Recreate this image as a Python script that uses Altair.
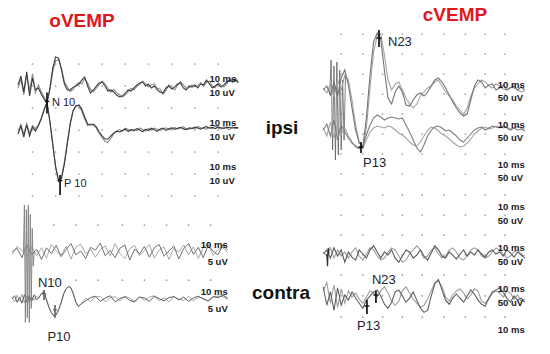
import altair as alt
import pandas as pd

FONT = "Liberation Sans"

# ---------------- time bases (ms) ----------------
T_A = list(range(0, 77))
T_B1 = list(range(-3, 87, 2))
T_B2 = list(range(-3, 26)) + list(range(27, 87, 2))
T_CD = list(range(-8, 105, 2))

# ---------------- oVEMP ipsi (uV, relative to row baseline) ----------------
A1A = [0.5, 4.5, -2.7, 6.4, -4.5, 3.6, -1.8, -0.9, -3.6, -5.9,
       -7.7, -0.9, 8.2, 13.2, 12.7, 7.3, 0.9, -1.8, -1.8, -0.5,
       0.0, 0.9, 2.7, 4.1, 0.0, -3.2, -1.8, 0.0, 1.4, 1.8,
       0.0, -2.3, -1.8, -2.7, -4.1, -5.0, -4.5, -3.2, -1.8, -2.3,
       -0.9, 0.5, 1.4, 1.8, 0.0, 0.9, -0.9, 0.0, -1.8, -2.7,
       -3.2, -0.9, 0.0, -1.4, -0.5, 0.9, 1.4, -0.9, -1.8, 0.0,
       -0.5, 0.5, -0.9, 0.9, 0.5, 2.7, 0.9, -0.9, 0.0, 0.9,
       -0.5, 0.5, 1.8, 2.7, 1.8, 2.7, 1.4]
A1B = [-1.0, 3.0, -4.0, 5.0, -2.0, 5.5, -3.0, 0.5, -2.5, -5.0,
       -7.5, -2.0, 6.5, 11.5, 12.0, 8.0, 2.0, -0.5, -2.5, -1.5,
       0.5, 1.5, 1.0, 3.2, 1.5, -1.5, -2.5, -1.0, 0.5, 2.2,
       1.0, -1.0, -2.8, -1.5, -3.0, -4.0, -5.0, -4.0, -2.5, -1.0,
       -1.8, -0.2, 0.8, 2.3, 1.0, -0.5, 0.5, 1.0, -1.0, -1.5,
       -3.8, -2.0, 0.5, -0.5, -1.8, 0.2, 2.0, 0.5, -1.0, -0.8,
       0.6, -0.4, 0.2, 1.5, -0.2, 1.8, 2.2, 0.0, -0.8, 1.5,
       0.5, -0.5, 1.0, 3.2, 2.5, 3.5, 2.0]
A2A = [-1.8, 1.8, -3.2, 2.3, -2.7, 1.4, -0.5, 1.8, 5.0, 9.1,
       12.7, 4.1, -6.4, -16.8, -23.0, -22.0, -15.5, -6.4, 2.7, 8.6,
       10.9, 11.4, 9.5, 5.9, 2.7, 2.3, 2.7, 1.4, -0.9, -2.7,
       -4.1, -4.1, -2.7, -1.4, -0.5, -0.9, -0.2, 0.5, -0.7, 0.3,
       -0.4, 0.6, 0.0, -0.8, 0.4, -0.3, 0.8, 0.1, -0.6, 0.5,
       0.9, -0.2, 0.6, 1.0, 0.3, 0.8, 1.2, 0.5, 0.2, 1.0,
       0.6, 1.3, 0.9, 0.4, 1.1, 1.5, 0.8, 1.2, 0.6, 1.4,
       1.0, 0.7, 1.3, 1.1, 0.9, 1.2, 1.0]
A2B = [-0.5, 2.5, -1.8, 3.0, -1.5, 2.0, 0.5, 2.2, 5.5, 9.5,
       12.5, 3.5, -7.0, -17.5, -23.5, -21.5, -14.5, -5.5, 3.2, 9.0,
       11.2, 11.0, 8.5, 5.0, 2.0, 2.8, 2.2, 0.8, -1.5, -3.5,
       -5.2, -5.6, -3.8, -1.8, -0.5, 0.2, -0.6, 0.8, 0.2, -0.5,
       0.4, -0.3, 0.9, 0.2, -0.5, 0.7, 0.0, 0.9, 0.3, -0.2,
       0.5, 1.0, 0.2, 0.6, 1.2, 0.4, 0.9, 1.5, 0.6, 0.3,
       1.1, 0.5, 1.6, 1.0, 0.7, 0.4, 1.3, 0.5, 1.8, 0.9,
       0.4, 1.5, 0.8, 0.2, 1.4, 0.6, 0.9]

# ---------------- oVEMP contra ----------------
B1A = [0, 0.8, -1.2, 1.5, -0.5, 0.6, -1.6, 0.9, -0.3, 1.4,
       -1.0, 0.5, 1.8, -0.6, 0.2, -1.4, 1.0, 0.4, 1.9, -0.8,
       0.3, -1.2, 0.8, 1.5, -1.7, 0.6, -0.4, 1.2, -1.1, 0.9,
       1.6, -0.9, 0.2, 1.3, -1.5, 0.7, 1.8, -0.5, 1.0, -1.2,
       1.4, 0.2, -0.6, 1.5, 0.4]
B1B = [-0.5, 1.2, 0.3, -1.0, 1.1, -0.8, 0.9, -1.3, 1.6, 0.2,
       -0.7, 1.2, -1.5, 1.0, 1.7, -0.4, 0.6, -1.1, 0.5, 1.3,
       -0.9, 1.8, -0.3, -1.4, 0.7, 1.4, -0.8, 0.3, 1.6, -1.3,
       0.4, 1.1, -1.6, 0.8, 0.0, 1.5, -0.6, 1.1, -1.4, 0.9,
       1.7, -0.7, 0.5, 1.0, -0.2]
B2A = [0, 0.7, -0.7, 0.4, -0.9, 0.9, -0.7, 0.7, -0.4, 0.9,
       -0.2, 0.4, 1.1, 1.6, -0.2, -1.8, -2.9, -3.6, -3.3, -2.2,
       -0.7, 1.1, 2.2, 2.7, 2.4, 1.1, -0.7, -1.6, -1.1,
       -0.4, 0.3, 0.6, -0.5, 0.2, 0.7, -0.6, 0.1, 0.5, -0.3,
       -0.6, 0.4, 0.2, -0.5, 0.6, 0.1, -0.4, 0.3, 0.5, -0.2,
       0.4, -0.5, 0.2, 0.6, 0.0, -0.4, 0.5, 0.3, 0.8, 0.2]
B2B = [0.3, -0.6, 0.8, -0.5, 1.0, -0.8, 0.6, -0.9, 0.5, -0.3,
       0.6, 0.2, 1.3, 1.4, 0.0, -1.6, -2.8, -3.5, -3.4, -2.4,
       -0.9, 0.9, 2.1, 2.6, 2.3, 1.0, -0.6, -1.5, -1.2,
       0.2, -0.5, 0.4, 0.6, -0.6, 0.3, 0.5, -0.4, 0.6, 0.2,
       -0.5, 0.5, -0.3, 0.4, 0.7, -0.4, 0.3, -0.6, 0.5, 0.0,
       -0.3, 0.6, -0.4, 0.4, 0.2, -0.5, 0.4, 0.6, 0.5, -0.1]
ART_B_T = [1.6, 2.0, 2.4, 2.8, 3.2, 3.6, 4.0, 4.4, 4.8, 5.2, 5.6, 6.0]
ART_B_V = [0, 10, -15, 9, -14, 10, -15, 8, -12, 5, -3, 0]

# ---------------- cVEMP ipsi ----------------
C1A = [0, 10, -12.5, 20, -15, 30, 50, 12.5, -45, -100,
       -132.5, -142.5, -70, 37.5, 120, 142.5, 125, 50, -20, -35,
       -5, 10, -5, -37.5, -40, -25, -12.5, -7.5, -15, -5,
       10, 25, 30, 20, 5, -12.5, -30, -45, -57.5, -65,
       -60, -25, 10, 25, 20, 5, 12.5, 15, 0, 5,
       12.5, 0, 5, 10, 0, 7.5, 0]
C1B = [5, -7.5, 15, -17.5, 25, 0, 37.5, 25, -25, -87.5,
       -130, -145, -95, 5, 95, 135, 140, 87.5, 25, 0,
       15, 20, 0, -20, -35, -45, -35, -15, -5, 5,
       10, 20, 25, 10, -5, -15, -25, -40, -50, -60,
       -45, -15, 5, 15, 25, 20, 10, 5, 15, 10,
       2.5, 0, 7.5, 5, 0, -5, -2.5]
C2A = [0, 15, -15, 25, -25, 12.5, -5, -20, -32.5, -40,
       -45, -40, -12.5, 12.5, 30, 37.5, 32.5, 25, 30, 32.5,
       30, 27.5, 30, 12.5, -5, -25, -45, -55, -37.5, -15,
       0, 7.5, 10, 5, -2.5, 0, -7.5, -15, -25, -30,
       -20, -10, 0, 5, 7.5, 0, 5, 10, 7.5, 5,
       10, 5, 0, 5, 0, 2.5, -2.5]
C2B = [5, -15, 20, -20, 15, -10, 5, -15, -30, -42.5,
       -47.5, -45, -25, -5, 5, 10, 7.5, 5, 10, 7.5,
       0, -7.5, -12.5, -20, -30, -37.5, -40, -30, -15, 0,
       7.5, 5, -2.5, -10, -15, -22.5, -30, -37.5, -42.5, -40,
       -32.5, -22.5, -10, -2.5, 5, 7.5, 2.5, 5, 10, 7.5,
       5, 7.5, 2.5, 5, 10, 5, 2.5]
ART_C_T = [-4.4, -3.6, -2.8, -2.0, -1.2, -0.4, 0.4, 1.2, 2.0, 2.8, 3.6, 4.4]
ART_C_V = [-12.5, 75, -150, 60, -175, 70, -162.5, 50, -150, 25, -125, 37.5]

# ---------------- cVEMP contra ----------------
D1A = [0, 10, -10, 15, -5, 10, -20, 5, -7.5, -15,
       10, 0, -10, 10, 20, 5, -10, 5, -2.5, 10,
       -10, -20, -5, 10, 5, -10, -2.5, 10, -5, -15,
       2.5, 20, 10, -5, -10, 5, -2.5, -12.5, 0, 10,
       -5, 5, -2.5, 10, 0, -7.5, 5, 10, 0, 5,
       -5, 10, 2.5, -7.5, 5, -2.5, -10]
D1B = [5, -5, 15, -10, 10, -5, 5, -10, 5, 15,
       -5, -15, 0, 15, 10, -5, -15, -10, 5, 15,
       10, -5, -20, -15, 0, 10, 20, 10, -10, -5,
       10, 15, 0, -10, -5, 10, 15, 5, -10, -15,
       -5, 10, 15, 10, -5, -10, -5, 5, 15, 10,
       0, -10, -5, 5, 10, 0, -5]
D2A = [20, -25, 7.5, -37.5, 17.5, -25, 0, -12.5, 7.5, -7.5,
       -20, -32.5, -12.5, -2.5, 7.5, 12.5, -2.5, -22.5, -32.5, -17.5,
       7.5, 12.5, -2.5, -17.5, -7.5, 7.5, -12.5, -32.5, -42.5, -37.5,
       -2.5, 27.5, 37.5, 12.5, -12.5, -22.5, -7.5, 2.5, -7.5, -17.5,
       -2.5, 12.5, 2.5, -12.5, -22.5, -27.5, -7.5, 7.5, 12.5, 17.5,
       7.5, -7.5, -17.5, -2.5, -12.5, -7.5, -17.5]
D2B = [10, 30, -20, 25, -30, 15, -20, 10, -5, 5,
       -10, -20, -5, 10, 5, -5, 10, 20, 5, -15,
       -25, -15, 10, 20, 5, -10, -20, -30, -25, -10,
       10, 30, 35, 20, -5, -15, 0, 10, 15, 5,
       -10, 0, 15, 10, -15, -20, -10, 5, 10, 5,
       -5, 10, 5, -10, 0, -15, -10]
ART_D_T = [-6.0, -5.6, -5.2, -4.8]
ART_D_V = [0, -30, 15, 0]

# ---------------- grid dot positions (ms / uV) ----------------
GRID_A_T = [5, 13, 21, 29, 37, 45, 53, 61, 69]
GRID_A_V = [60, 50, 40, 30, 20, 10, 0]
GRID_B_T = [14, 23, 32, 42, 51, 60, 69, 78]
GRID_B_V = [20.7, 9.0]
GRID_C_T = [2, 14, 25, 36, 47, 59, 71, 82, 93]
GRID_C_V = [340, 290, 240, 190, 140, 90, 40, -10]
GRID_D_V = [344, 295, 246, 198, 149, 98, 46]

# ---------------- panel scales ----------------
PANELS = {
    "A": dict(xd=[0, 76], xr=[18, 238.4], yd=[0, 100], yr=[196, -24]),
    "B": dict(xd=[-3, 86], xr=[12.15, 230.2], yd=[0, 30], yr=[322.5, 181.5]),
    "C": dict(xd=[-8, 104], xr=[323.2, 524.8], yd=[0, 400], yr=[170, 10]),
    "D": dict(xd=[-8, 104], xr=[323.2, 524.8], yd=[0, 400], yr=[336, 172]),
}


def sx(p):
    c = PANELS[p]
    return alt.Scale(domain=c["xd"], range=c["xr"], nice=False, zero=False)


def sy(p):
    c = PANELS[p]
    return alt.Scale(domain=c["yd"], range=c["yr"], nice=False, zero=False)


def X(p, f="t"):
    return alt.X(f + ":Q", scale=sx(p), axis=None)


def Y(p, f="v"):
    return alt.Y(f + ":Q", scale=sy(p), axis=None)


# (panel, times, amplitudes, row offset, colour, width)
SERIES = [
    ("A", T_A, A1B, 50, "#8a8a8a", 1.1), ("A", T_A, A1A, 50, "#3a3a3a", 1.1),
    ("A", T_A, A2B, 30, "#8a8a8a", 1.1), ("A", T_A, A2A, 30, "#3a3a3a", 1.1),
    ("B", T_B1, B1B, 15, "#a8a8a8", 1.0), ("B", T_B1, B1A, 15, "#707070", 1.0),
    ("B", T_B2, B2B, 5, "#a8a8a8", 1.0), ("B", T_B2, B2A, 5, "#5e5e5e", 1.0),
    ("B", ART_B_T, ART_B_V, 15, "#808080", 0.9),
    ("C", ART_C_T, ART_C_V, 200, "#606060", 0.8),
    ("C", T_CD, C1B, 200, "#a3a3a3", 1.1), ("C", T_CD, C1A, 200, "#747474", 1.1),
    ("C", T_CD, C2B, 100, "#a3a3a3", 1.1), ("C", T_CD, C2A, 100, "#7e7e7e", 1.1),
    ("D", T_CD, D1B, 200, "#9e9e9e", 1.1), ("D", T_CD, D1A, 200, "#5a5a5a", 1.1),
    ("D", T_CD, D2B, 100, "#9e9e9e", 1.1), ("D", T_CD, D2A, 100, "#606060", 1.1),
    ("D", ART_D_T, ART_D_V, 200, "#333333", 1.2),
]

# (panel, t, v_low, v_high, v_cross, half_width, colour)
MARKERS = [
    ("A", 10, 37.5, 47, 43, 0.8, "#111111"),
    ("A", 14.5, 0.5, 9.5, 7, 0.8, "#111111"),
    ("B", 10, 4.8, 6.9, 6.1, 0.8, "#666666"),
    ("B", 14.5, 1.0, 3.7, 2.7, 0.8, "#666666"),
    ("C", 23, 307.5, 350, 330, 1.4, "#111111"),
    ("C", 13, 42.5, 70, 57.5, 1.4, "#111111"),
    ("D", 16.3, 53.7, 87.8, 73, 1.4, "#111111"),
    ("D", 21.3, 80.5, 109.8, 100, 1.4, "#111111"),
]

# (panel, text, t, v, align, size)
PEAKS = [
    ("A", "N 10", 11.7, 42.3, "left", 11),
    ("A", "P 10", 15.9, 5.5, "left", 11),
    ("B", "N10", 12.4, 8.4, "center", 13),
    ("B", "P10", 16.1, -3.1, "center", 13),
    ("C", "N23", 28, 320, "left", 13),
    ("C", "P13", 14.1, 17.5, "left", 13),
    ("D", "N23", 19.1, 136.6, "left", 13),
    ("D", "P13", 10.8, 24.4, "left", 13),
]

# (panel, t, rows with "10 ms", rows with amplitude label, amplitude text, align, dy_ms, dy_uv)
SCALE_LABELS = [
    ("A", 66, [50, 30, 10], [50, 30, 10], "10 uV", "left", -7, 7),
    ("B", 85, [15, 5], [15, 5], "5 uV", "right", -7, 10),
    ("C", 89, [200, 100, 0], [200, 100, 0], "50 uV", "left", -5, 8),
    ("D", 89, [300, 200, 100, 0], [300, 200, 100], "50 uV", "left", -6, 8),
]

layers = []

# grid dots
for p, cols, rows in [("A", GRID_A_T, GRID_A_V), ("B", GRID_B_T, GRID_B_V),
                      ("C", GRID_C_T, GRID_C_V), ("D", GRID_C_T, GRID_D_V)]:
    df = pd.DataFrame([(t, v) for v in rows for t in cols], columns=["t", "v"])
    layers.append(alt.Chart(df).mark_circle(size=3, color="#9c9c9c", opacity=1)
                  .encode(x=X(p), y=Y(p)))

# traces
for p, times, amps, off, col, w in SERIES:
    df = pd.DataFrame({"t": times, "v": [off + a for a in amps]})
    layers.append(alt.Chart(df).mark_line(color=col, strokeWidth=w)
                  .encode(x=X(p), y=Y(p)))

# peak markers
for p, t, v1, v2, vc, hw, col in MARKERS:
    dv = pd.DataFrame({"t": [t], "v1": [v1], "v2": [v2]})
    layers.append(alt.Chart(dv).mark_rule(color=col, strokeWidth=1.7)
                  .encode(x=X(p), y=Y(p, "v1"), y2="v2:Q"))
    dh = pd.DataFrame({"t1": [t - hw], "t2": [t + hw], "v": [vc]})
    layers.append(alt.Chart(dh).mark_rule(color=col, strokeWidth=1.4)
                  .encode(x=X(p, "t1"), x2="t2:Q", y=Y(p)))

# peak labels
for p, txt, t, v, al, size in PEAKS:
    df = pd.DataFrame({"t": [t], "v": [v], "s": [txt]})
    layers.append(alt.Chart(df).mark_text(font=FONT, fontSize=size, color="#1e2230",
                                          align=al, baseline="middle")
                  .encode(x=X(p), y=Y(p), text="s:N"))

# scale labels
for p, t, rows_ms, rows_uv, uvtxt, al, dy1, dy2 in SCALE_LABELS:
    d1 = pd.DataFrame({"t": [t] * len(rows_ms), "v": rows_ms, "s": ["10 ms"] * len(rows_ms)})
    layers.append(alt.Chart(d1).mark_text(font=FONT, fontSize=9.5, fontWeight="bold",
                                          color="#1a1a1a", align=al, baseline="middle", dy=dy1)
                  .encode(x=X(p), y=Y(p), text="s:N"))
    d2 = pd.DataFrame({"t": [t] * len(rows_uv), "v": rows_uv, "s": [uvtxt] * len(rows_uv)})
    layers.append(alt.Chart(d2).mark_text(font=FONT, fontSize=9.5, fontWeight="bold",
                                          color="#1a1a1a", align=al, baseline="middle", dy=dy2)
                  .encode(x=X(p), y=Y(p), text="s:N"))

# headings
ONE = pd.DataFrame({"k": [0]})
HEADINGS = [("oVEMP", 82, 21, "#e3161b"), ("cVEMP", 455, 15, "#e3161b"),
            ("ipsi", 282, 128, "#111111"), ("contra", 281, 293, "#111111")]
for txt, hx, hy, col in HEADINGS:
    layers.append(alt.Chart(ONE).mark_text(font=FONT, fontSize=19, fontWeight="bold",
                                           color=col, align="center", baseline="middle")
                  .encode(x=alt.value(hx), y=alt.value(hy), text=alt.value(txt)))

chart = (alt.layer(*layers)
         .resolve_scale(x="independent", y="independent")
         .properties(width=550, height=354, padding=0,
                     autosize=alt.AutoSizeParams(type="none"), background="white")
         .configure_view(stroke=None))

chart.save("out.html", embed_options={"renderer": "svg", "actions": False})
